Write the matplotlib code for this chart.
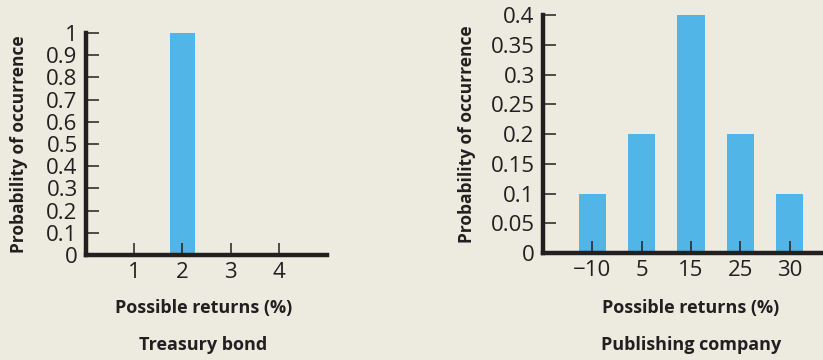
import matplotlib.pyplot as plt

# treasury bond distribution
tb_returns = [1, 2, 3, 4]
tb_prob = [0, 1, 0, 0]

# publishing company distribution
pc_labels = ['\u221210', '5', '15', '25', '30']
pc_prob = [0.1, 0.2, 0.4, 0.2, 0.1]

bg = '#EDEADF'
bar_col = '#52B5E8'
ink = '#231F20'

plt.rcParams['font.family'] = ['Open Sans', 'DejaVu Sans']

fig = plt.figure(figsize=(8.23, 3.6), dpi=100, facecolor=bg)

ax1 = fig.add_axes([0.1045, 0.2917, 0.2928, 0.6167])
ax2 = fig.add_axes([0.6598, 0.2972, 0.3597, 0.661])

lab = dict(fontsize=13, fontweight='bold', color=ink)


def style(ax, ylab_x):
    ax.set_facecolor(bg)
    for s in ['top', 'right']:
        ax.spines[s].set_visible(False)
    for s in ['left', 'bottom']:
        ax.spines[s].set_linewidth(3.2)
        ax.spines[s].set_color(ink)
        ax.spines[s].set_capstyle('projecting')
    ax.tick_params(direction='in', length=9, width=1.1, color=ink,
                   labelsize=16, labelcolor=ink, pad=5)
    ax.tick_params(axis='y', pad=6)
    ax.set_ylabel('Probability of occurrence', fontsize=12.5,
                  fontweight='bold', color=ink)
    ax.yaxis.set_label_coords(ylab_x, 0.5)
    ax.set_xlabel('Possible returns (%)', **lab)
    ax.xaxis.label.set_va('center')
    ax.yaxis.label.set_va('center')


# left: treasury bond
ax1.bar(tb_returns, tb_prob, width=0.52, color=bar_col, zorder=1)
ax1.set_xlim(0, 5)
ax1.set_ylim(0, 1)
ax1.set_xticks(tb_returns)
ax1.set_yticks([i / 10 for i in range(11)])
ax1.set_yticklabels(['0'] + ['0.%d' % i for i in range(1, 10)] + ['1'])
style(ax1, (19 - 86) / 241)
ax1.xaxis.set_label_coords(204 / 823, 52 / 360, transform=fig.transFigure)
fig.text(203 / 823, 15 / 360, 'Treasury bond', ha='center', va='center', **lab)

# right: publishing company
pos = list(range(len(pc_labels)))
ax2.bar(pos, pc_prob, width=0.55, color=bar_col, zorder=1)
ax2.set_xlim(-1, 5)
ax2.set_ylim(0, 0.4)
ax2.set_xticks(pos)
ax2.set_xticklabels(pc_labels)
yt = [0, 0.05, 0.1, 0.15, 0.2, 0.25, 0.3, 0.35, 0.4]
ax2.set_yticks(yt)
ax2.set_yticklabels(['0', '0.05', '0.1', '0.15', '0.2', '0.25', '0.3', '0.35', '0.4'])
style(ax2, (467 - 543) / 296)
ax2.xaxis.set_label_coords(691 / 823, 52 / 360, transform=fig.transFigure)
fig.text(691 / 823, 15 / 360, 'Publishing company', ha='center', va='center', **lab)

fig.savefig('out.png', dpi=100, facecolor=bg)
